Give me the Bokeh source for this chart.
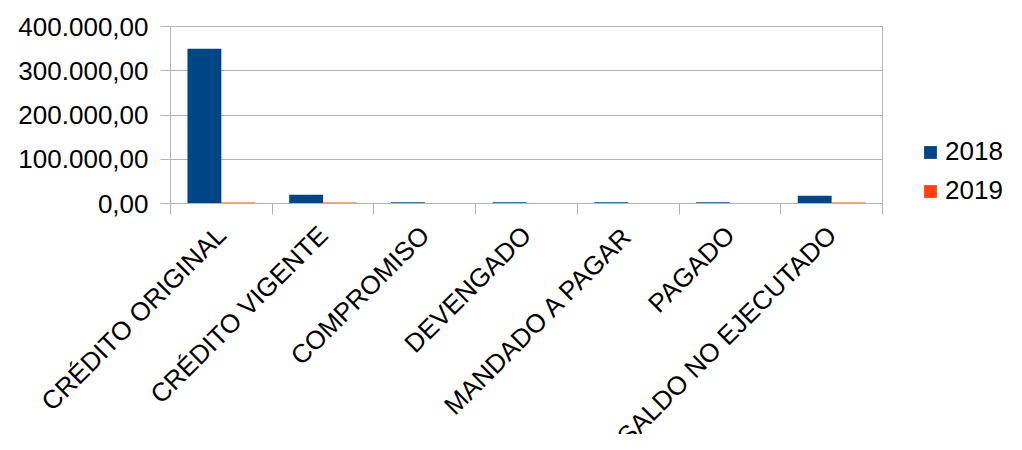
import numpy as np
from bokeh.plotting import figure
from bokeh.models import Range1d, FixedTicker, Legend, LegendItem, ColumnDataSource, LabelSet
from bokeh.core.properties import value
from bokeh.embed import file_html
from bokeh.resources import INLINE

categories = ["CRÉDITO ORIGINAL", "CRÉDITO VIGENTE", "COMPROMISO", "DEVENGADO",
              "MANDADO A PAGAR", "PAGADO", "SALDO NO EJECUTADO"]
values_2018 = [350000, 20000, 3000, 3000, 3000, 3000, 17500]
values_2019 = [2500, 2500, 0, 0, 0, 0, 2500]
series_names = ["2018", "2019"]
series_colors = ["#004586", "#ff420e"]
y_ticks = [0, 100000, 200000, 300000, 400000]
y_tick_labels = ["0,00", "100.000,00", "200.000,00", "300.000,00", "400.000,00"]

n = len(categories)
idx = np.arange(n)
centers = idx + 0.5
bar_w = 1.0 / 3.0
y_max = y_ticks[-1]

# layout geometry (pixels)
W, H = 1006, 434
LEFT, TOP = 170, 26                # position of the chart area's top-left corner
PLOT_W, PLOT_H = 712, 177          # visible chart area (categories 0..n, values 0..y_max)
px_x = PLOT_W / n
px_y = PLOT_H / y_max
x_start = -LEFT / px_x
x_end = (W - LEFT) / px_x
y_end = y_max + TOP / px_y
y_start = y_max - (H - TOP) / px_y

src = ColumnDataSource(dict(
    cat=categories,
    xc=centers,
    x18=centers - bar_w / 2,
    x19=centers + bar_w / 2,
    v18=values_2018,
    v19=values_2019,
    zero=[0] * n,
))

FONT = "Liberation Sans"
GRID = "#b3b3b3"

p = figure(width=W, height=H, x_range=Range1d(x_start, x_end), y_range=Range1d(y_start, y_end),
           output_backend="svg", toolbar_location=None,
           min_border_left=0, min_border_right=0, min_border_top=0, min_border_bottom=0)

p.background_fill_color = "white"
p.border_fill_color = "white"
p.outline_line_color = None

# grid lines limited to the chart area
p.ygrid.ticker = FixedTicker(ticks=y_ticks)
p.ygrid.grid_line_color = GRID
p.ygrid.cross_bounds = (0, n)
p.xgrid.ticker = FixedTicker(ticks=[n])
p.xgrid.grid_line_color = GRID
p.xgrid.cross_bounds = (0, y_max)

r18 = p.vbar(x="x18", top="v18", width=bar_w, source=src, fill_color=series_colors[0], line_color=None)
r19 = p.vbar(x="x19", top="v19", width=bar_w, source=src, fill_color=series_colors[1], line_color=None)

# x axis at value 0: boundary ticks only
xa = p.xaxis[0]
xa.fixed_location = 0
xa.bounds = (0, n)
xa.ticker = FixedTicker(ticks=[], minor_ticks=list(range(n + 1)))
xa.minor_tick_out = 11
xa.minor_tick_in = 0
xa.minor_tick_line_color = GRID
xa.major_tick_line_color = None
xa.major_label_text_font_size = "0px"
xa.axis_line_color = GRID

# y axis at category origin
ya = p.yaxis[0]
ya.fixed_location = 0
ya.bounds = (0, y_max)
ya.ticker = FixedTicker(ticks=y_ticks)
ya.major_label_overrides = {t: l for t, l in zip(y_ticks, y_tick_labels)}
ya.major_tick_out = 10
ya.major_tick_in = 0
ya.minor_tick_line_color = None
ya.major_tick_line_color = GRID
ya.axis_line_color = GRID
ya.major_label_standoff = 12
ya.major_label_text_font = FONT
ya.major_label_text_font_size = "26px"
ya.major_label_text_color = "black"

labels = LabelSet(x="xc", y="zero", text="cat", source=src, angle=np.pi / 4,
                  text_align="right", text_baseline="middle", y_offset=-27,
                  text_font=value(FONT), text_font_size=value("26px"), text_color="black")
p.add_layout(labels)

legend = Legend(items=[LegendItem(label=series_names[0], renderers=[r18]),
                       LegendItem(label=series_names[1], renderers=[r19])],
                location=(922, H - 206), orientation="vertical",
                glyph_width=16, glyph_height=16, label_standoff=7, spacing=8,
                padding=0, margin=0,
                label_text_font=FONT, label_text_font_size="26px", label_text_color="black",
                border_line_color=None, background_fill_alpha=0)
p.add_layout(legend, "center")

open("out.html", "w").write(file_html(p, INLINE))
